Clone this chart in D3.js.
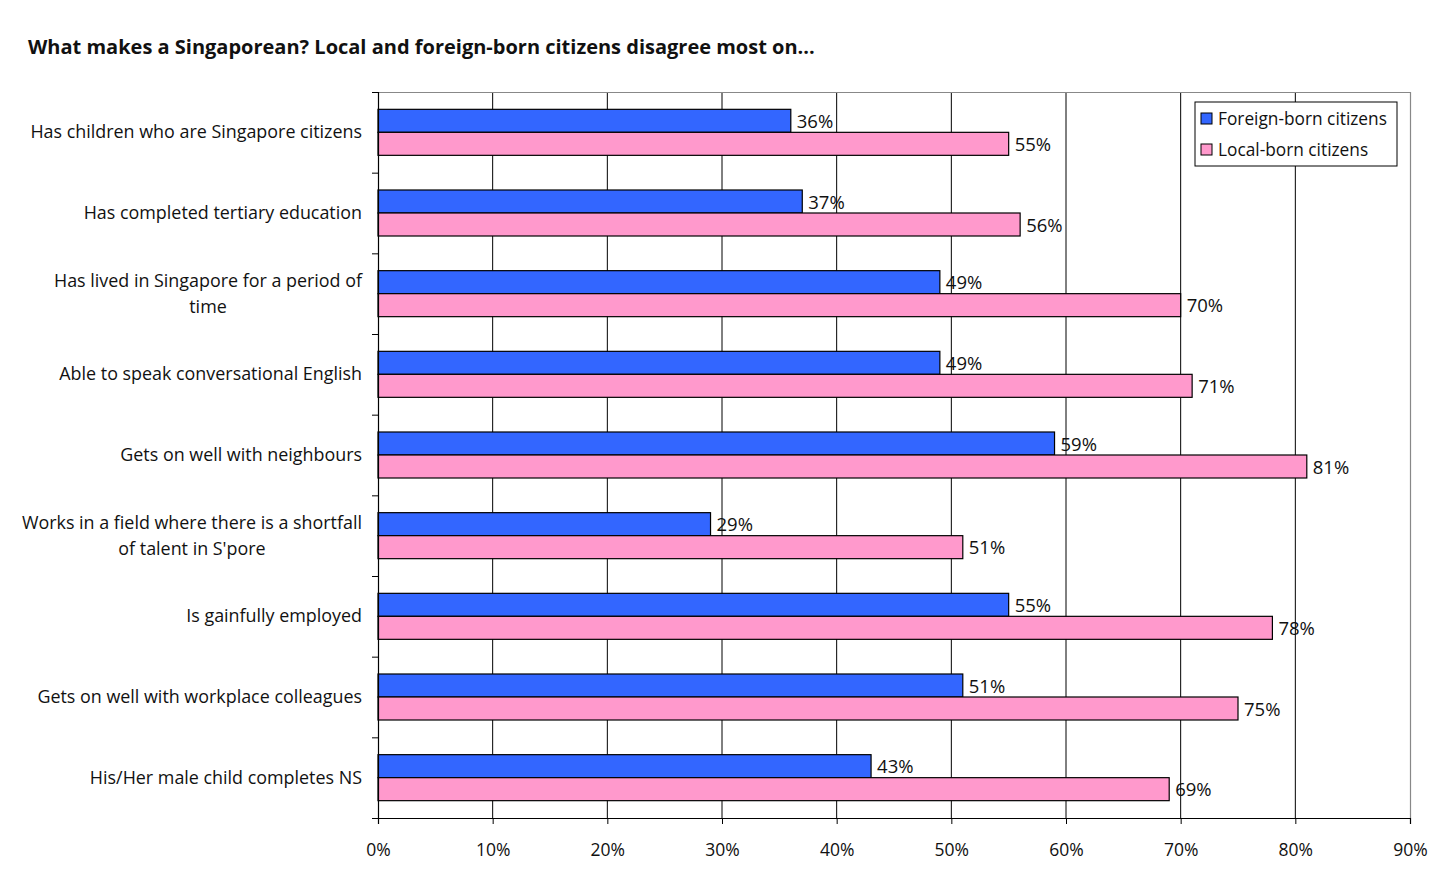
<!DOCTYPE html>
<html>
<head>
<meta charset="utf-8">
<script src="https://cdn.jsdelivr.net/npm/d3@7"></script>
<style>
  body { margin: 0; background: #fff; }
  text { font-family: "Open Sans", "Noto Sans", sans-serif; fill: #111; }
</style>
</head>
<body>
<svg id="chart" width="1445" height="880"></svg>
<script>
let categories = [
  ["Has children who are Singapore citizens"],
  ["Has completed tertiary education"],
  ["Has lived in Singapore for a period of", "time"],
  ["Able to speak conversational English"],
  ["Gets on well with neighbours"],
  ["Works in a field where there is a shortfall", "of talent in S'pore"],
  ["Is gainfully employed"],
  ["Gets on well with workplace colleagues"],
  ["His/Her male child completes NS"]
];
let foreignBorn = [36, 37, 49, 49, 59, 29, 55, 51, 43];
let localBorn = [55, 56, 70, 71, 81, 51, 78, 75, 69];
let seriesNames = ["Foreign-born citizens", "Local-born citizens"];
let xTicks = [0, 10, 20, 30, 40, 50, 60, 70, 80, 90];

let svg = d3.select("#chart");
let plotLeft = 378, plotRight = 1410, plotTop = 92, plotBottom = 818;
let blueColor = "#3366FF";
let pinkColor = "#FF99CC";
let labelSize = "17.9px";

let x = d3.scaleLinear().domain([0, 90]).range([plotLeft, plotRight]);
let y = d3.scaleBand().domain(d3.range(categories.length)).range([plotTop, plotBottom]);
let barH = 23;

// title
svg.append("text")
  .attr("x", 28).attr("y", 54)
  .style("font-size", "20px").style("font-weight", "bold")
  .text("What makes a Singaporean? Local and foreign-born citizens disagree most on...");

// gridlines
svg.selectAll(".grid")
  .data(xTicks.slice(1, -1))
  .enter().append("line")
  .attr("x1", d => x(d)).attr("x2", d => x(d))
  .attr("y1", plotTop).attr("y2", plotBottom)
  .attr("stroke", "#000").attr("stroke-width", 1);

// plot border top and right (gray)
svg.append("path")
  .attr("d", "M" + plotLeft + "," + (plotTop + 0.5) + "H" + (plotRight + 0.5) + "V" + plotBottom)
  .attr("fill", "none").attr("stroke", "#888").attr("stroke-width", 1.2);

// bars
let rows = categories.map((c, i) => ({i: i, f: foreignBorn[i], l: localBorn[i]}));
let g = svg.selectAll(".row").data(rows).enter().append("g");

g.append("rect")
  .attr("x", x(0)).attr("y", d => y(d.i) + y.bandwidth() / 2 - barH)
  .attr("width", d => x(d.f) - x(0)).attr("height", barH)
  .attr("fill", blueColor).attr("stroke", "#000").attr("stroke-width", 1.2);

g.append("rect")
  .attr("x", x(0)).attr("y", d => y(d.i) + y.bandwidth() / 2)
  .attr("width", d => x(d.l) - x(0)).attr("height", barH)
  .attr("fill", pinkColor).attr("stroke", "#000").attr("stroke-width", 1.2);

g.append("text")
  .attr("x", d => x(d.f) + 6).attr("y", d => y(d.i) + y.bandwidth() / 2 - barH / 2 + 7)
  .style("font-size", "18.5px")
  .text(d => d.f + "%");

g.append("text")
  .attr("x", d => x(d.l) + 6).attr("y", d => y(d.i) + y.bandwidth() / 2 + barH / 2 + 7)
  .style("font-size", "18.5px")
  .text(d => d.l + "%");

// y axis
let yAxis = svg.append("g")
  .attr("transform", "translate(" + plotLeft + ",0)")
  .call(d3.axisLeft(d3.scaleLinear().domain([0, categories.length]).range([plotTop, plotBottom]))
    .ticks(categories.length).tickSize(6).tickFormat(""));
yAxis.select(".domain").attr("stroke", "#000").attr("stroke-width", 1.2);
yAxis.selectAll(".tick line").attr("stroke", "#000");

// category labels
categories.forEach((lines, i) => {
  let cy = y(i) + y.bandwidth() / 2;
  let t = svg.append("text").style("font-size", labelSize);
  let first = t.append("tspan").attr("x", 362).attr("text-anchor", "end").text(lines[0]);
  if (lines.length == 1) {
    t.attr("y", cy + 6);
  } else {
    t.attr("y", cy - 7);
    let w = first.node().getComputedTextLength();
    svg.append("text").style("font-size", labelSize)
      .attr("x", 362 - w / 2).attr("y", cy + 19)
      .attr("text-anchor", "middle").text(lines[1]);
  }
});

// x axis
let xAxis = svg.append("g")
  .attr("transform", "translate(0," + plotBottom + ")")
  .call(d3.axisBottom(x).tickValues(xTicks).tickSize(6).tickFormat(d => d + "%"));
xAxis.select(".domain").attr("stroke", "#000").attr("stroke-width", 1.2);
xAxis.selectAll(".tick line").attr("stroke", "#000");
xAxis.selectAll(".tick text")
  .attr("y", 26).style("font-size", "17.5px")
  .style("font-family", "'Open Sans', 'Noto Sans', sans-serif").attr("fill", "#111");

// legend
let legend = svg.append("g").attr("transform", "translate(1195,102)");
legend.append("rect").attr("width", 202).attr("height", 64)
  .attr("fill", "#fff").attr("stroke", "#000").attr("stroke-width", 1);
[blueColor, pinkColor].forEach((c, i) => {
  legend.append("rect").attr("x", 6).attr("y", 11 + i * 31).attr("width", 11).attr("height", 11)
    .attr("fill", c).attr("stroke", "#000").attr("stroke-width", 1);
  legend.append("text").attr("x", 23).attr("y", 23 + i * 31)
    .style("font-size", "17.3px").text(seriesNames[i]);
});
</script>
</body>
</html>
